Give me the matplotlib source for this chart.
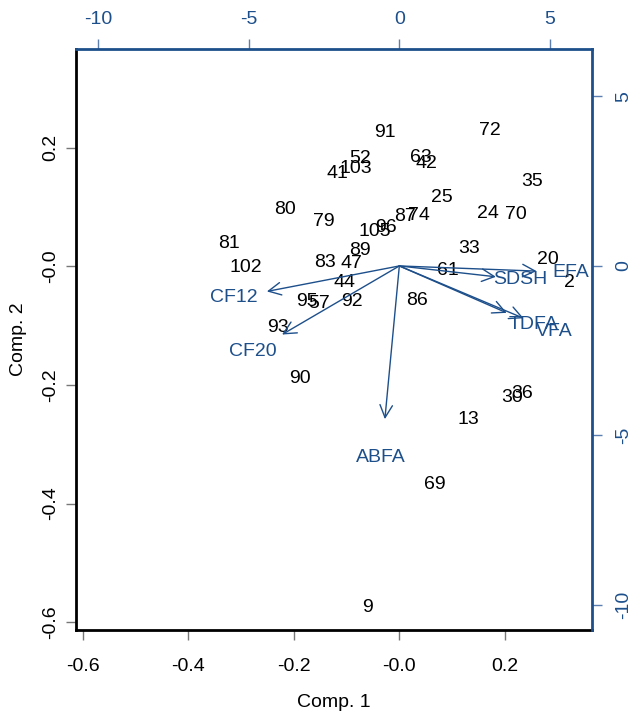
import matplotlib
matplotlib.use("Agg")
import matplotlib.pyplot as plt

plt.rcParams['font.family'] = ['Liberation Sans', 'DejaVu Sans']

# ---- data ----
score_labels = ["91", "72", "52", "103", "41", "63", "42", "35", "25", "80", "79",
                "87", "74", "24", "70", "105", "96", "81", "89", "33", "102", "83",
                "47", "20", "61", "2", "44", "95", "57", "92", "86", "93", "90",
                "36", "30", "13", "69", "9"]
comp1 = [-0.026, 0.172, -0.074, -0.083, -0.117, 0.042, 0.051, 0.253, 0.081, -0.216, -0.142,
         0.011, 0.038, 0.168, 0.221, -0.047, -0.025, -0.323, -0.074, 0.132, -0.291, -0.140,
         -0.091, 0.282, 0.093, 0.323, -0.104, -0.174, -0.151, -0.089, 0.034, -0.229, -0.189,
         0.233, 0.214, 0.131, 0.068, -0.059]
comp2 = [0.225, 0.228, 0.181, 0.164, 0.156, 0.183, 0.173, 0.142, 0.115, 0.095, 0.076,
         0.083, 0.085, 0.088, 0.087, 0.058, 0.066, 0.038, 0.027, 0.029, -0.003, 0.006,
         0.004, 0.012, -0.008, -0.028, -0.028, -0.059, -0.062, -0.059, -0.057, -0.104, -0.190,
         -0.215, -0.222, -0.258, -0.367, -0.575]

var_labels = ["CF12", "CF20", "ABFA", "SDSH", "EFA", "TDFA", "VFA"]
load1 = [-5.50, -4.87, -0.60, 4.01, 5.70, 4.46, 5.16]
load2 = [-0.94, -2.53, -5.65, -0.40, -0.19, -1.73, -1.93]

score_ticks = [-0.6, -0.4, -0.2, 0.0, 0.2]
score_ticklabels = ["-0.6", "-0.4", "-0.2", "-0.0", "0.2"]
load_ticks = [-10, -5, 0, 5]
load_ticklabels = ["-10", "-5", "0", "5"]

score_lim = (-0.613, 0.366)
load_lim = (-10.74, 6.40)

blue = "#1d4f8b"
fs = 14

fig = plt.figure(figsize=(6.33, 7.17), dpi=100)
rect = [76/633, 1 - 630/717, (592-76)/633, (630-49)/717]
ax = fig.add_axes(rect)
ax.set_xlim(score_lim)
ax.set_ylim(score_lim)
for lab, x, y in zip(score_labels, comp1, comp2):
    ax.text(x, y, lab, ha='center', va='center', fontsize=fs, color='black')

ax.set_xticks(score_ticks)
ax.set_xticklabels(score_ticklabels)
ax.set_yticks(score_ticks)
ax.set_yticklabels(score_ticklabels, rotation=90, va='center')
ax.tick_params(axis='both', direction='out', length=7, width=1, color='#777777',
               labelsize=fs, labelcolor='black')
ax.tick_params(axis='x', pad=13)
ax.tick_params(axis='y', pad=5)
ax.set_xlabel("Comp. 1", fontsize=fs, labelpad=14)
ax.set_ylabel("Comp. 2", fontsize=fs, labelpad=11)
for s in ['left', 'bottom']:
    ax.spines[s].set_linewidth(2)
    ax.spines[s].set_color('black')
for s in ['top', 'right']:
    ax.spines[s].set_visible(False)

ax2 = fig.add_axes(rect, frameon=True)
ax2.patch.set_alpha(0)
ax2.set_xlim(load_lim)
ax2.set_ylim(load_lim)
ax2.xaxis.tick_top()
ax2.yaxis.tick_right()
ax2.set_xticks(load_ticks)
ax2.set_xticklabels(load_ticklabels)
ax2.set_yticks(load_ticks)
ax2.set_yticklabels(load_ticklabels, rotation=90, va='center')
ax2.tick_params(axis='both', direction='out', length=7, width=1, color='#5b7fb0',
                labelsize=fs, labelcolor=blue)
ax2.tick_params(axis='x', pad=8)
ax2.tick_params(axis='y', pad=10)
for s in ['left', 'bottom']:
    ax2.spines[s].set_visible(False)
for s in ['top', 'right']:
    ax2.spines[s].set_linewidth(2)
    ax2.spines[s].set_color(blue)

for lab, x, y in zip(var_labels, load1, load2):
    ax2.annotate('', xy=(0.8 * x, 0.8 * y), xytext=(0, 0),
                 arrowprops=dict(arrowstyle='->,head_length=0.9,head_width=0.45',
                                 color=blue, lw=1, shrinkA=0, shrinkB=0))
    ax2.text(x, y, lab, ha='center', va='center', fontsize=fs, color=blue)

fig.savefig("out.png", dpi=100)
